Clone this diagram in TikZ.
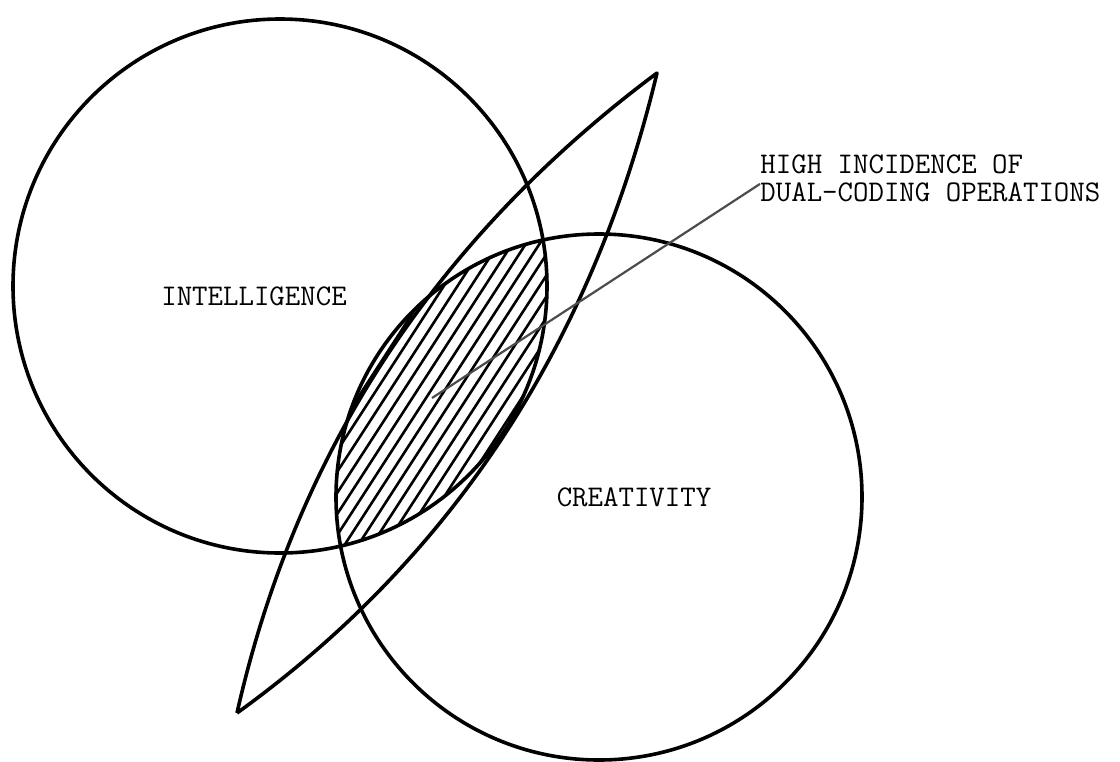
\documentclass[tikz,border=0pt]{standalone}
\usepackage{fontspec}
\usepackage{tikz}

\tikzset{
  venn/.style={line width=1.8pt},
  hatch/.style={line width=1.3pt},
  leader/.style={gray!60!black,line width=1.1pt},
  typed/.style={font=\ttfamily\fontsize{15}{14}\selectfont,inner sep=0pt},
}

\begin{document}
\begin{tikzpicture}[x=0.5pt,y=-0.5pt,line join=round]
  \useasboundingbox (0,0) rectangle (1120,761);
  % hatched overlap of the two circles
  \begin{scope}
    \clip (280,286) circle (267);
    \clip (599,497) circle (263);
    \foreach \k in {-7,...,7}
      \draw[hatch,shift={(\k*9.6,\k*6.3)}] (305,606) -- (577,186);
  \end{scope}
  % intelligence (upper left) and creativity (lower right)
  \draw[venn] (280,286) circle (267);
  \draw[venn] (599,497) circle (263);
  % pointed lens cutting across both
  \coordinate (tipN) at (657,73);
  \coordinate (tipS) at (237,713);
  \draw[venn] (tipS) .. controls (296,451) and (436,238) .. (tipN)
                     .. controls (592,344) and (452,558) .. (tipS);
  % texts
  \node[typed] (intel) at (254,296) {INTELLIGENCE};
  \node[typed] (creat) at (634,497) {CREATIVITY};
  \node[typed,align=left,anchor=north west] (dual) at (760,154)
    {HIGH INCIDENCE OF\\DUAL-CODING OPERATIONS};
  % pointer from the overlap to the note
  \coordinate (focus) at (432,398);
  \draw[leader] (focus) -- ([yshift=-3pt]dual.west);
\end{tikzpicture}
\end{document}
